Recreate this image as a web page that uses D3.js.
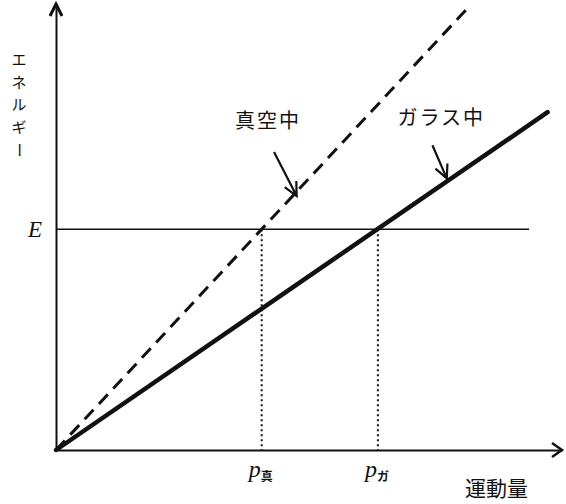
<!DOCTYPE html>
<html>
<head>
<meta charset="utf-8">
<script src="https://cdn.jsdelivr.net/npm/d3@7"></script>
<style>
  body { margin: 0; background: #fff; }
  svg { display: block; }
  text { fill: #111; }
</style>
</head>
<body>
<div id="chart"></div>
<script>
// momentum (x) and energy (y), in units where p_vacuum = E = 1
const xDomain = [0, 2.46];
const yDomain = [0, 2.02];
const energyLevel = 1.0;
const energyLineEnd = 2.3;
const vacuumPoints = [[0, 0], [2.01, 2.01]];
const glassPoints = [[0, 0], [2.39, 1.53]];
const momentumMarks = [
  { sub: "真", p: 1.0 },
  { sub: "ガ", p: 1.565 }
];
const yLabel = ["エ", "ネ", "ル", "ギ", "ー"];
const xLabel = "運動量";
const curveLabels = [
  { text: "真空中", x: 0.87, y: 1.46, arrowFrom: [1.06, 1.35], arrowTo: [1.17, 1.15] },
  { text: "ガラス中", x: 1.66, y: 1.47, arrowFrom: [1.83, 1.38], arrowTo: [1.9, 1.23] }
];

const width = 566, height = 504;
const svg = d3.select("#chart").append("svg")
  .attr("width", width)
  .attr("height", height);

const x = d3.scaleLinear().domain(xDomain).range([56, 562]);
const y = d3.scaleLinear().domain(yDomain).range([450, 4]);

const ink = "#111";
const cjk = "'Noto Sans CJK JP', sans-serif";

// axes: domain lines only
svg.append("g")
  .attr("transform", `translate(0,${y(0)})`)
  .call(d3.axisBottom(x).tickValues([]).tickSizeOuter(0))
  .select(".domain").attr("stroke", ink).attr("stroke-width", 2);
svg.append("g")
  .attr("transform", `translate(${x(0)},0)`)
  .call(d3.axisLeft(y).tickValues([]).tickSizeOuter(0))
  .select(".domain").attr("stroke", ink).attr("stroke-width", 2);

// arrow heads on the axes
const xEnd = x(xDomain[1]), yEnd = y(yDomain[1]);
svg.append("path")
  .attr("d", `M${xEnd - 10},${y(0) - 7} L${xEnd},${y(0)} L${xEnd - 10},${y(0) + 7}`)
  .attr("fill", "none").attr("stroke", ink).attr("stroke-width", 2.5);
svg.append("path")
  .attr("d", `M${x(0) - 6},${yEnd + 12} L${x(0)},${yEnd} L${x(0) + 6},${yEnd + 12}`)
  .attr("fill", "none").attr("stroke", ink).attr("stroke-width", 3);

// energy level line
svg.append("line")
  .attr("x1", x(0)).attr("x2", x(energyLineEnd))
  .attr("y1", y(energyLevel)).attr("y2", y(energyLevel))
  .attr("stroke", ink).attr("stroke-width", 1.6);

svg.append("text")
  .attr("x", x(0) - 14).attr("y", y(energyLevel) + 8)
  .attr("text-anchor", "end")
  .style("font-family", "'Liberation Serif', serif")
  .style("font-style", "italic")
  .style("font-size", "23px")
  .text("E");

// dotted drops to the momentum axis
svg.selectAll(".drop").data(momentumMarks).enter()
  .append("line")
  .attr("x1", d => x(d.p)).attr("x2", d => x(d.p))
  .attr("y1", y(energyLevel)).attr("y2", y(0))
  .attr("stroke", ink).attr("stroke-width", 2)
  .attr("stroke-dasharray", "2,3");

const pLabel = svg.selectAll(".plabel").data(momentumMarks).enter()
  .append("text")
  .attr("x", d => x(d.p) - 13).attr("y", y(0) + 27);
pLabel.append("tspan")
  .style("font-family", "'Liberation Serif', serif")
  .style("font-style", "italic")
  .style("font-size", "24px")
  .text("p");
pLabel.append("tspan")
  .attr("dy", 4)
  .style("font-family", cjk)
  .style("font-size", "12px")
  .style("font-weight", "bold")
  .text(d => d.sub);

// the two dispersion lines
const line = d3.line().x(d => x(d[0])).y(d => y(d[1]));
svg.append("path")
  .attr("d", line(vacuumPoints))
  .attr("fill", "none").attr("stroke", ink)
  .attr("stroke-width", 3)
  .attr("stroke-dasharray", "13,8");
svg.append("path")
  .attr("d", line(glassPoints))
  .attr("fill", "none").attr("stroke", ink)
  .attr("stroke-width", 4.5)
  .attr("stroke-linecap", "round");

// callout labels with arrows
curveLabels.forEach(c => {
  svg.append("text")
    .attr("x", x(c.x)).attr("y", y(c.y))
    .style("font-family", cjk)
    .style("font-size", "20px")
    .style("letter-spacing", "2px")
    .text(c.text);
  const [x1, y1] = [x(c.arrowFrom[0]), y(c.arrowFrom[1])];
  const [x2, y2] = [x(c.arrowTo[0]), y(c.arrowTo[1])];
  const ang = Math.atan2(y2 - y1, x2 - x1);
  const head = 15, spread = 0.45;
  svg.append("path")
    .attr("d", `M${x1},${y1} L${x2},${y2}` +
      ` M${x2 - head * Math.cos(ang - spread)},${y2 - head * Math.sin(ang - spread)} L${x2},${y2}` +
      ` L${x2 - head * Math.cos(ang + spread)},${y2 - head * Math.sin(ang + spread)}`)
    .attr("fill", "none").attr("stroke", ink).attr("stroke-width", 2.2);
});

// axis titles
svg.append("text")
  .attr("x", 465).attr("y", 496)
  .style("font-family", cjk)
  .style("font-size", "21px")
  .text(xLabel);

svg.selectAll(".ylab").data(yLabel).enter()
  .append("text")
  .attr("x", 19).attr("y", (d, i) => 65 + i * 22.5)
  .attr("text-anchor", "middle")
  .style("font-family", cjk)
  .style("font-size", "15px")
  .attr("transform", (d, i) => d === "ー" ? `rotate(90,19,${65 + i * 22.5 - 5})` : null)
  .text(d => d);
</script>
</body>
</html>
